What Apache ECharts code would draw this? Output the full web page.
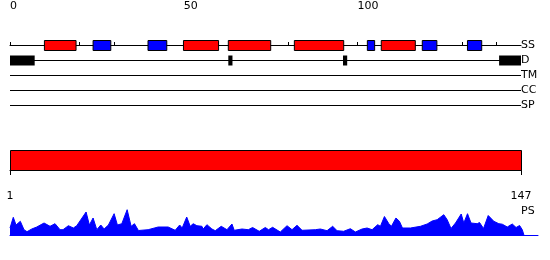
<!DOCTYPE html>
<html><head><meta charset="utf-8">
<script src="https://cdn.jsdelivr.net/npm/echarts@6/dist/echarts.min.js"></script>
<style>html,body{margin:0;padding:0;background:#fff}#c{width:550px;height:260px}</style>
</head><body><div id="c"></div>
<script>
// ---------- data ----------
const seqLength = 147;
const trackNames = ['SS', 'D', 'TM', 'CC', 'SP'];
const topTickValues = [0, 10, 20, 30, 40, 50, 60, 70, 80, 90, 100, 110, 120, 130, 140];
const topLabelValues = [0, 50, 100];
// secondary structure: [start, end]
const helixSegments = [[9.9, 19.0], [49.9, 60.0], [62.8, 75.0], [81.8, 96.0], [106.8, 116.6]];
const strandSegments = [[23.9, 29.0], [39.7, 45.1], [102.8, 104.9], [118.6, 122.8], [131.6, 135.7]];
// disorder: [start, end]
const disorderSegments = [[0, 7.1], [62.8, 64.0], [95.8, 97.0], [140.7, 147]];
// domain bar: [start, end]
const domainSegments = [[1, 147]];
const bottomLabelValues = [1, 147];
// PS profile: residue position and value
const psPositions = [1.0, 1.94, 2.72, 3.95, 5.0, 5.86, 6.43, 7.21, 8.64, 10.73, 12.44, 13.87, 15.3, 16.16, 17.68, 19.11, 20.08, 22.74, 23.68, 24.74, 25.8, 26.94, 27.89, 29.12, 30.75, 31.69, 32.95, 34.47, 35.61, 36.56, 37.7, 40.47, 43.33, 46.19, 48.2, 49.48, 50.2, 51.49, 52.49, 53.35, 54.4, 55.83, 56.21, 57.26, 58.69, 59.64, 61.35, 62.99, 64.42, 65.07, 67.28, 69.08, 70.31, 72.22, 73.94, 74.88, 76.03, 78.23, 80.15, 81.58, 83.01, 84.44, 88.24, 89.67, 91.59, 93.19, 94.45, 96.34, 98.25, 99.68, 101.6, 103.03, 104.46, 106.06, 106.84, 107.98, 109.21, 109.98, 111.27, 112.27, 113.13, 115.42, 118.28, 120.19, 121.62, 123.05, 124.94, 125.91, 127.0, 128.29, 129.92, 130.66, 131.72, 132.72, 134.49, 135.15, 136.3, 137.64, 139.24, 140.67, 141.65, 143.08, 144.51, 145.6, 146.6, 147.37, 147.83];
const psValues = [7, 17.7, 10, 13.7, 5.3, 3.3, 3.3, 6, 8, 12, 8.7, 11.3, 5.3, 5.3, 9.3, 7, 9.3, 23, 10, 17, 5.3, 10, 6, 10, 21.3, 10, 11.3, 25.3, 8.7, 11.3, 4.5, 5.3, 8, 8, 4.7, 10, 7, 18, 8.7, 11.3, 9.3, 8.7, 6, 10.3, 6, 4.3, 8.7, 5.3, 11, 4.7, 6, 5.3, 7.5, 3.7, 7.5, 5.3, 7.7, 3, 9.3, 5.3, 9.7, 4.7, 5.3, 6, 4.3, 8.7, 4.3, 3.7, 6.3, 3, 6, 7, 5.3, 10.3, 8.7, 18.5, 11.5, 8.7, 17, 13.7, 7, 7, 8.7, 11, 14, 15.3, 20.3, 15.3, 6.5, 12, 21, 12, 21.3, 12, 11.3, 12.5, 6.5, 19.5, 13.7, 11.3, 10.8, 8, 11, 7.5, 9.5, 5.3, 0];

// ---------- chart ----------
const FONT = 'DejaVu Sans';
const chart = echarts.init(document.getElementById('c'), null, {renderer: 'canvas'});

function segRenderer(fill, hasStroke) {
  return function (params, api) {
    const s = api.coord([api.value(0), api.value(2)]);
    const e = api.coord([api.value(1), api.value(2)]);
    const cy = Math.round(s[1]) + 0.5;
    const h = 10;
    return {
      type: 'rect',
      shape: {x: s[0], y: cy - h / 2, width: e[0] - s[0], height: h},
      style: {fill: fill, stroke: hasStroke ? '#000' : null, lineWidth: 1}
    };
  };
}

const trackLineData = trackNames.map((n, i) => [0, seqLength, i]);

const option = {
  animation: false,
  textStyle: {fontFamily: FONT},
  grid: [
    {left: 10, right: 29, top: 15, height: 105},
    {left: 10, right: 29, top: 150, height: 20},
    {left: 10, right: 12, top: 205, height: 30}
  ],
  xAxis: [
    {
      gridIndex: 0, type: 'value', position: 'top', min: 0, max: seqLength,
      axisLine: {show: true, lineStyle: {color: '#000', width: 1}},
      axisTick: {show: true, length: 3, customValues: topTickValues, lineStyle: {color: '#000'}},
      axisLabel: {show: true, customValues: topLabelValues, align: 'left', margin: 3,
        fontSize: 11, color: '#000', fontFamily: FONT},
      splitLine: {show: false}
    },
    {
      gridIndex: 1, type: 'value', position: 'bottom', offset: 10, min: 1, max: seqLength,
      axisLine: {show: true, lineStyle: {color: '#000', width: 1}},
      axisTick: {show: true, length: 5, customValues: bottomLabelValues, lineStyle: {color: '#000'}},
      axisLabel: {show: true, customValues: bottomLabelValues, margin: 11,
        fontSize: 11, color: '#000', fontFamily: FONT},
      splitLine: {show: false}
    },
    {
      gridIndex: 2, type: 'value', position: 'bottom', min: 1, max: 151.86,
      axisLine: {show: true, lineStyle: {color: '#0000ff', width: 1}},
      axisTick: {show: false}, axisLabel: {show: false}, splitLine: {show: false}
    }
  ],
  yAxis: [
    {
      gridIndex: 0, type: 'value', position: 'right', min: -2, max: 5, inverse: true,
      axisLine: {show: false}, axisTick: {show: false}, splitLine: {show: false},
      axisLabel: {show: true, customValues: [0, 1, 2, 3, 4], margin: 0, align: 'left',
        padding: [2, 0, 0, 0],
        formatter: v => trackNames[v] || '', fontSize: 11, color: '#000', fontFamily: FONT}
    },
    {
      gridIndex: 1, type: 'value', min: 0, max: 1,
      axisLine: {show: false}, axisTick: {show: false}, axisLabel: {show: false}, splitLine: {show: false}
    },
    {
      gridIndex: 2, type: 'value', min: 0, max: 30,
      axisLine: {show: false}, axisTick: {show: false}, axisLabel: {show: false}, splitLine: {show: false}
    }
  ],
  graphic: [
    {type: 'text', left: 521, top: 206, style: {text: 'PS', font: '11px "DejaVu Sans"', fill: '#000'}}
  ],
  series: [
    {
      type: 'custom', xAxisIndex: 0, yAxisIndex: 0, silent: true,
      renderItem: function (params, api) {
        const s = api.coord([api.value(0), api.value(2)]);
        const e = api.coord([api.value(1), api.value(2)]);
        const y = Math.round(s[1]) + 0.5;
        return {type: 'line', shape: {x1: s[0], y1: y, x2: e[0], y2: y},
          style: {stroke: '#000', lineWidth: 1}};
      },
      data: trackLineData
    },
    {type: 'custom', xAxisIndex: 0, yAxisIndex: 0, silent: true,
      renderItem: segRenderer('#ff0000', true), data: helixSegments.map(d => [d[0], d[1], 0])},
    {type: 'custom', xAxisIndex: 0, yAxisIndex: 0, silent: true,
      renderItem: segRenderer('#0000ff', true), data: strandSegments.map(d => [d[0], d[1], 0])},
    {type: 'custom', xAxisIndex: 0, yAxisIndex: 0, silent: true,
      renderItem: segRenderer('#000000', false), data: disorderSegments.map(d => [d[0], d[1], 1])},
    {
      type: 'custom', xAxisIndex: 1, yAxisIndex: 1, silent: true,
      renderItem: function (params, api) {
        const s = api.coord([api.value(0), 1]);
        const e = api.coord([api.value(1), 0]);
        return {type: 'rect',
          shape: {x: Math.round(s[0]) + 0.5, y: Math.round(s[1]) + 0.5,
            width: Math.round(e[0] - s[0]), height: Math.round(e[1] - s[1])},
          style: {fill: '#ff0000', stroke: '#000', lineWidth: 1}};
      },
      data: domainSegments
    },
    {
      type: 'line', xAxisIndex: 2, yAxisIndex: 2, silent: true,
      showSymbol: false, symbol: 'none', smooth: false,
      lineStyle: {color: '#0000ff', width: 1},
      areaStyle: {color: '#0000ff', opacity: 1},
      data: psPositions.map((p, i) => [p, psValues[i]])
    }
  ]
};
chart.setOption(option);
</script>
</body></html>
